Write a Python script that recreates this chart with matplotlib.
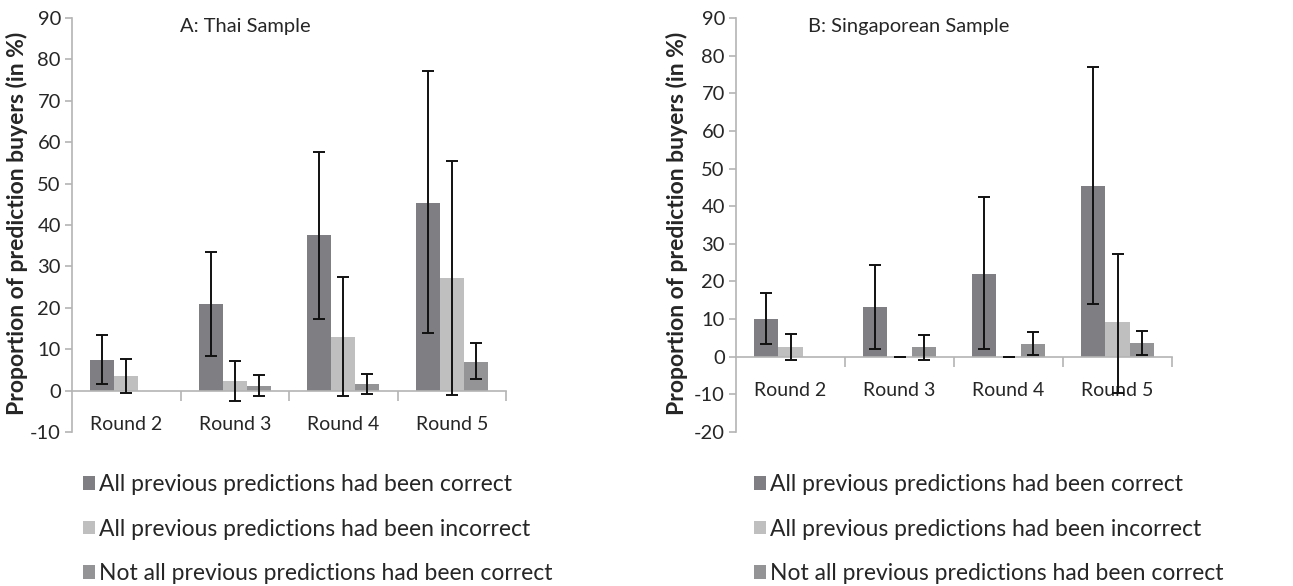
import matplotlib
matplotlib.use("Agg")
import matplotlib.pyplot as plt
import numpy as np

plt.rcParams['font.family'] = ['Lato', 'DejaVu Sans']

rounds = ["Round 2", "Round 3", "Round 4", "Round 5"]
series_labels = ["All previous predictions had been correct",
                 "All previous predictions had been incorrect",
                 "Not all previous predictions had been correct"]
colors = ["#7f7f83", "#bfbfc0", "#949497"]

# Thai sample: values, lower and upper error-bar ends (NaN = no data)
thai_correct = [7.5, 21.0, 37.5, 45.3]
thai_correct_lo = [1.6, 8.3, 17.3, 14.0]
thai_correct_hi = [13.4, 33.5, 57.7, 77.1]
thai_incorrect = [3.5, 2.3, 13.0, 27.3]
thai_incorrect_lo = [-0.6, -2.4, -1.4, -1.0]
thai_incorrect_hi = [7.7, 7.1, 27.4, 55.5]
thai_notall = [np.nan, 1.2, 1.6, 7.0]
thai_notall_lo = [np.nan, -1.4, -0.8, 2.7]
thai_notall_hi = [np.nan, 3.8, 4.1, 11.5]

# Singaporean sample
sg_correct = [10.0, 13.2, 22.1, 45.4]
sg_correct_lo = [3.3, 2.0, 2.0, 14.0]
sg_correct_hi = [16.8, 24.3, 42.4, 77.0]
sg_incorrect = [2.5, 0.0, 0.0, 9.1]
sg_incorrect_lo = [-0.9, 0.0, 0.0, -9.6]
sg_incorrect_hi = [6.1, 0.0, 0.0, 27.3]
sg_notall = [np.nan, 2.5, 3.3, 3.6]
sg_notall_lo = [np.nan, -1.0, 0.35, 0.5]
sg_notall_hi = [np.nan, 5.9, 6.6, 6.8]

W, H = 1293, 586
fig = plt.figure(figsize=(W / 100, H / 100), dpi=100)

axis_color = "#b4b4b4"
text_color = "#262626"
fs = 14

def panel(rect, title, vals, ylim, yticks, tx, lx):
    ax = fig.add_axes(rect)
    x = np.arange(len(rounds))
    bw = 1 / 4.5
    for i, (v, lo, hi) in enumerate(vals):
        v = np.array(v, dtype=float)
        lo = np.array(lo, dtype=float)
        hi = np.array(hi, dtype=float)
        xs = x + (i - 1) * bw
        ax.bar(xs, np.nan_to_num(v), width=bw, color=colors[i],
               label=series_labels[i], zorder=2)
        m = ~np.isnan(v)
        ax.errorbar(xs[m], v[m], yerr=[v[m] - lo[m], hi[m] - v[m]],
                    fmt='none', ecolor='#111111', elinewidth=1.4,
                    capsize=4, capthick=1.4, zorder=3)
    ax.set_xlim(-0.5, len(rounds) - 0.5)
    ax.set_ylim(*ylim)
    ax.set_yticks(yticks)
    ax.set_yticklabels([str(t) for t in yticks], fontsize=14.5, color=text_color)
    for s in ['top', 'right']:
        ax.spines[s].set_visible(False)
    ax.spines['bottom'].set_position(('data', 0))
    ax.spines['bottom'].set_color(axis_color)
    ax.spines['left'].set_color(axis_color)
    ax.spines['bottom'].set_linewidth(1.2)
    ax.spines['left'].set_linewidth(1.2)
    ax.tick_params(axis='y', length=5, color=axis_color, width=1.2, pad=3)
    ax.set_xticks(np.arange(0.5, len(rounds)), minor=True)
    ax.set_xticks(x)
    ax.set_xticklabels(rounds, fontsize=fs, color=text_color)
    ax.tick_params(axis='x', which='major', length=0, pad=18)
    ax.tick_params(axis='x', which='minor', length=7, color=axis_color, width=1.2)
    ax.set_ylabel("Proportion of prediction buyers (in %)", fontsize=16.5,
                  fontweight='bold', color=text_color)
    ax.yaxis.set_label_coords(lx, 0.505)
    ax.set_title(title, fontsize=14.5, color=text_color, y=0.945, x=tx)
    ax.patch.set_alpha(0)
    return ax

axA = panel([72 / W, 1 - 432 / H, 434 / W, 414 / H], "A: Thai Sample",
            [(thai_correct, thai_correct_lo, thai_correct_hi),
             (thai_incorrect, thai_incorrect_lo, thai_incorrect_hi),
             (thai_notall, thai_notall_lo, thai_notall_hi)],
            (-10, 90), list(range(-10, 91, 10)), 0.40, -0.102)
axB = panel([736 / W, 1 - 432 / H, 436 / W, 414 / H], "B: Singaporean Sample",
            [(sg_correct, sg_correct_lo, sg_correct_hi),
             (sg_incorrect, sg_incorrect_lo, sg_incorrect_hi),
             (sg_notall, sg_notall_lo, sg_notall_hi)],
            (-20, 90), list(range(-20, 91, 10)), 0.395, -0.11)

for ax, x0 in [(axA, 74 / W), (axB, 745 / W)]:
    h, l = ax.get_legend_handles_labels()
    fig.legend(h, l, loc='upper left', bbox_to_anchor=(x0, 1 - 465 / H),
               frameon=False, fontsize=16.5, handlelength=0.5, handleheight=0.55,
               handletextpad=0.2, labelspacing=1.02, labelcolor=text_color,
               borderaxespad=0)

fig.savefig("out.png", dpi=100)
